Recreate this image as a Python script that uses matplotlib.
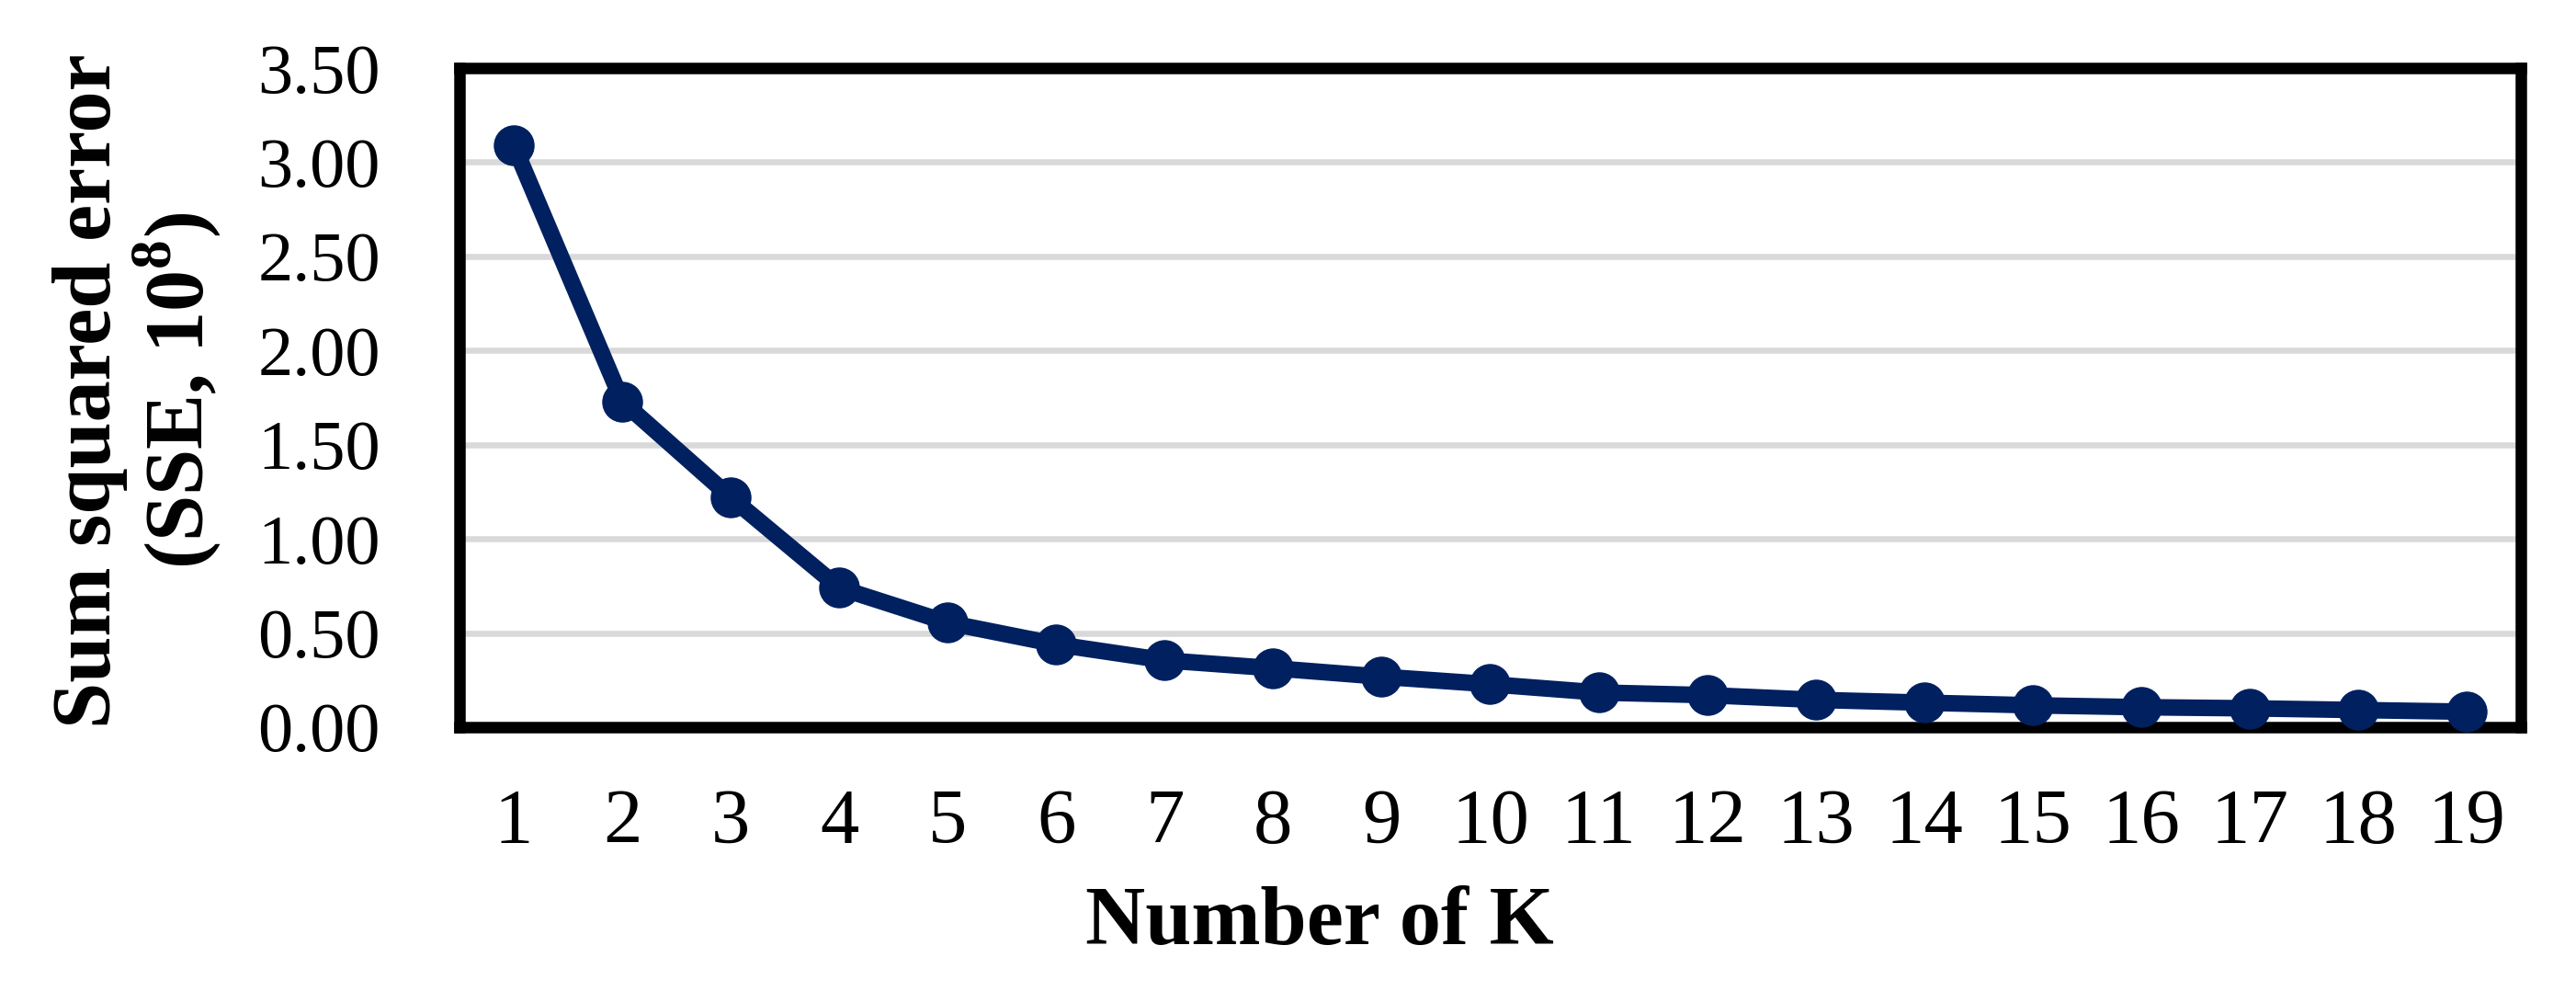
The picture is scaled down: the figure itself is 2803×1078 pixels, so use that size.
import matplotlib.pyplot as plt
import numpy as np

# elbow curve data
k_values = list(range(1, 20))
sse = [3.09, 1.73, 1.22, 0.74, 0.555, 0.44, 0.355, 0.313, 0.268, 0.228,
       0.184, 0.17, 0.145, 0.13, 0.116, 0.106, 0.10, 0.091, 0.082]
y_ticks = np.arange(0, 3.51, 0.5)

plt.rcParams['font.family'] = ['Liberation Serif', 'DejaVu Serif']
plt.rcParams['mathtext.fontset'] = 'custom'
plt.rcParams['mathtext.rm'] = 'Liberation Serif'
plt.rcParams['mathtext.bf'] = 'Liberation Serif:bold'

W, H = 2803, 1078
fig = plt.figure(figsize=(W / 100, H / 100), dpi=100)
ax = fig.add_axes([500 / W, 1 - 791 / H, 2243 / W, 717 / H])

ax.plot(k_values, sse, color='#002060', lw=13, marker='o', ms=31,
        clip_on=False, zorder=5)

ax.set_xlim(0.5, 19.5)
ax.set_ylim(0, 3.5)
ax.set_xticks(k_values)
ax.set_yticks(y_ticks)
ax.set_yticklabels([f'{v:.2f}' for v in y_ticks])
ax.tick_params(axis='y', length=0, pad=62, labelsize=55)
ax.tick_params(axis='x', length=0, pad=48, labelsize=61)

ax.grid(axis='y', color='#D9D9D9', lw=4.7)
ax.set_axisbelow(True)
for s in ax.spines.values():
    s.set_linewidth(9)
    s.set_color('black')
    s.set_zorder(4)

fig.text(1436 / W, 1 - 1005 / H, 'Number of K', ha='center', va='center',
         fontsize=65, fontweight='bold')
fig.text(150 / W, 1 - 425 / H, 'Sum squared error\n(SSE, 10$^{\\mathbf{8}}$)',
         ha='center', va='center', rotation=90, fontsize=65,
         fontweight='bold', multialignment='center', linespacing=1.05)

fig.savefig('out.png', dpi=100)
